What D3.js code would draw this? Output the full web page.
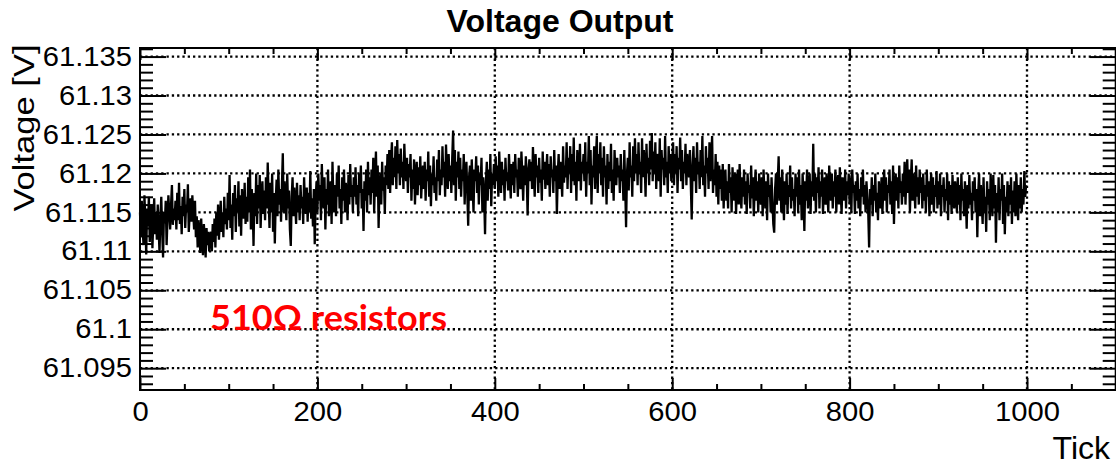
<!DOCTYPE html>
<html>
<head>
<meta charset="utf-8">
<script src="https://cdn.jsdelivr.net/npm/d3@7"></script>
<style>
  html, body { margin: 0; padding: 0; background: #fff; }
  svg { display: block; }
</style>
</head>
<body>
<svg id="chart" width="1116" height="468"></svg>
<script>
// ---- data (values in units of 0.0001 V above 61.1 V, one per tick 0..999) ----
const voltageOffsets = [
150,118,165,128,108,172,140,96,155,132,170,112,145,160,104,138,168,122,150,115,
160,130,98,145,170,125,92,150,136,165,108,142,172,150,128,160,185,134,155,140,
165,128,175,140,188,135,158,122,170,145,180,130,160,150,186,125,148,168,138,172,
150,128,165,118,145,105,140,125,98,142,112,95,135,118,92,130,108,125,100,120,
125,100,135,112,142,105,150,120,160,115,138,165,125,150,118,170,135,155,128,175,
140,198,130,160,115,175,145,185,125,168,150,190,132,172,120,180,155,142,188,135,
170,138,195,150,205,128,180,160,107,175,145,200,135,185,155,198,130,172,190,148,
178,140,195,155,214,170,130,188,150,200,125,175,110,165,192,145,205,160,180,138,
185,226,150,190,168,140,200,155,178,128,107,170,195,145,182,160,135,188,150,172,
140,185,155,170,135,195,160,148,182,138,175,150,203,142,168,132,180,109,165,190,
150,200,165,185,140,212,170,155,195,128,180,160,205,145,175,190,135,215,165,150,
185,145,200,170,210,155,180,135,195,165,205,150,188,175,140,198,160,212,170,185,
150,195,170,208,160,185,145,200,175,210,155,180,126,190,165,205,150,215,172,195,
160,205,175,220,150,195,228,170,210,130,185,200,160,215,178,195,148,210,185,225,
180,230,175,215,240,185,220,195,235,180,243,200,225,185,232,195,215,180,238,205,
190,220,175,212,195,225,165,205,180,218,160,200,215,172,208,185,222,168,195,210,
180,215,165,205,190,228,170,210,158,200,185,222,175,195,165,218,190,230,172,205,
185,235,195,215,170,237,200,180,225,190,210,175,220,255,185,230,165,215,195,228,
180,220,170,205,190,225,160,200,215,175,133,195,210,165,218,185,150,205,190,222,
175,210,160,200,185,220,150,195,170,122,190,215,165,205,180,225,158,200,185,212,
180,222,190,210,170,228,195,175,215,185,205,165,220,190,200,178,225,195,168,212,
185,215,175,225,195,205,170,220,190,180,228,200,165,210,185,222,195,146,205,218,
190,215,180,234,200,170,225,195,210,175,220,188,205,165,228,192,215,180,200,225,
185,212,170,222,195,205,175,230,190,210,148,200,225,180,215,195,170,235,188,210,
195,240,180,220,200,235,175,225,190,246,185,215,165,230,205,190,238,178,215,200,
225,190,240,170,215,200,248,185,230,160,210,195,235,180,220,248,175,225,200,240,
185,220,170,235,195,210,160,225,180,215,190,238,175,205,165,230,200,185,220,195,
210,175,225,190,205,165,230,185,131,200,220,178,240,195,210,170,235,190,245,200,
225,185,240,200,215,175,245,195,230,210,170,238,200,220,185,242,205,252,190,228,
200,240,180,225,210,190,245,170,230,205,220,185,248,195,215,175,235,200,225,190,
215,240,185,225,200,235,175,220,205,246,190,230,180,215,200,238,185,225,210,195,
230,185,141,210,235,190,220,175,240,200,215,180,230,195,248,185,210,170,235,200,
220,180,240,190,215,248,175,205,185,225,170,215,160,210,180,205,165,212,155,195,
205,165,190,155,212,175,195,150,208,180,165,200,148,188,205,160,212,175,155,195,
170,205,160,190,148,200,175,185,155,210,168,195,145,180,205,165,190,150,200,178,
160,195,145,205,175,155,190,140,200,170,185,150,195,165,135,124,180,200,160,190,
222,165,195,150,205,175,140,190,160,200,148,185,170,210,155,195,165,180,145,200,
170,195,150,205,160,185,140,200,175,126,190,165,205,155,180,200,148,190,170,238,
165,200,150,195,175,208,155,190,170,205,148,185,195,160,200,175,150,210,180,165,
200,155,190,170,205,150,185,198,160,208,175,148,195,180,165,205,155,190,172,200,
160,195,150,205,175,185,148,190,165,200,155,180,145,195,170,205,160,185,150,190,
170,150,105,180,160,195,145,185,165,200,150,175,140,190,168,155,195,148,180,205,
165,195,150,185,175,205,160,190,148,210,135,180,200,165,195,155,210,175,190,160,
200,170,215,160,195,218,175,205,150,190,218,165,200,180,155,210,170,195,160,205,
175,195,155,200,165,185,150,205,170,190,145,180,200,160,195,150,185,170,203,155,
190,160,200,145,185,170,195,150,180,165,200,140,190,160,185,148,198,170,155,190,
175,150,195,160,185,140,200,165,180,145,190,170,129,185,155,198,160,175,140,190,
165,195,150,180,118,175,200,145,185,160,135,195,150,170,125,190,160,180,140,200,
170,145,198,155,185,111,175,150,195,140,180,165,200,135,185,122,170,150,190,145,
185,160,195,135,178,150,190,145,200,165,140,185,155,195,150,180,160,203,170,185
];
const baseVoltage = 61.1;
const unit = 0.0001;

const yMajorTicks = [61.095, 61.1, 61.105, 61.11, 61.115, 61.12, 61.125, 61.13, 61.135];
const yTickLabels = ["61.095", "61.1", "61.105", "61.11", "61.115", "61.12", "61.125", "61.13", "61.135"];
const xMajorTicks = [0, 200, 400, 600, 800, 1000];
const xTickLabels = ["0", "200", "400", "600", "800", "1000"];
const xDomain = [0, 1100];
const yDomain = [61.0922, 61.1361];

const titleText = "Voltage Output";
const xLabelText = "Tick";
const yLabelText = "Voltage [V]";
const noteText = "510\u03A9 resistors";

// ---- layout ----
const L = 140, R = 1115.7, T = 48, B = 390;
const svg = d3.select("#chart");
const x = d3.scaleLinear().domain(xDomain).range([L, R]);
const y = d3.scaleLinear().domain(yDomain).range([B, T]);

const data = voltageOffsets.map((v, i) => ({ t: i, v: baseVoltage + v * unit }));

const font = "'Liberation Sans', Arial, Helvetica, sans-serif";

// grid (dotted)
const grid = svg.append("g").attr("stroke", "#000").attr("stroke-width", 2.3).attr("stroke-dasharray", "2.3,3");
grid.selectAll("line.h").data(yMajorTicks).join("line").attr("class", "h")
  .attr("x1", L).attr("x2", R).attr("y1", d => y(d)).attr("y2", d => y(d));
grid.selectAll("line.v").data(xMajorTicks.filter(d => d > 0)).join("line").attr("class", "v")
  .attr("y1", T).attr("y2", B).attr("x1", d => x(d)).attr("x2", d => x(d));

// series line
svg.append("path").datum(data)
  .attr("fill", "none").attr("stroke", "#000").attr("stroke-width", 2.3).attr("stroke-linejoin", "miter")
  .attr("d", d3.line().x(d => x(d.t)).y(d => y(d.v)));

// minor tick values
const yMinor = d3.range(61.093, 61.1365, 0.001).map(v => +v.toFixed(3)).filter(v => yMajorTicks.indexOf(v) < 0);
const xMinor = d3.range(0, 1101, 50).filter(v => v % 200 !== 0);

function styleAxis(g) {
  g.select(".domain").remove();
  g.selectAll(".tick line").attr("stroke", "#000").attr("stroke-width", 2);
}

// left axis
svg.append("g").attr("transform", `translate(${L},0)`)
  .call(d3.axisLeft(y).tickValues(yMinor).tickSizeInner(-13).tickSizeOuter(0).tickFormat(""))
  .call(styleAxis);
const yAx = svg.append("g").attr("transform", `translate(${L},0)`)
  .call(d3.axisLeft(y).tickValues(yMajorTicks).tickSizeInner(-26).tickSizeOuter(0).tickPadding(8)
    .tickFormat((d, i) => yTickLabels[i]))
  .call(styleAxis);
yAx.selectAll("text").attr("font-family", font).attr("font-size", 27).attr("fill", "#000");

// right axis
svg.append("g").attr("transform", `translate(${R},0)`)
  .call(d3.axisRight(y).tickValues(yMinor).tickSizeInner(-13).tickSizeOuter(0).tickFormat(""))
  .call(styleAxis);
svg.append("g").attr("transform", `translate(${R},0)`)
  .call(d3.axisRight(y).tickValues(yMajorTicks).tickSizeInner(-26).tickSizeOuter(0).tickFormat(""))
  .call(styleAxis);

// bottom axis
svg.append("g").attr("transform", `translate(0,${B})`)
  .call(d3.axisBottom(x).tickValues(xMinor).tickSizeInner(-6).tickSizeOuter(0).tickFormat(""))
  .call(styleAxis);
const xAx = svg.append("g").attr("transform", `translate(0,${B})`)
  .call(d3.axisBottom(x).tickValues(xMajorTicks).tickSizeInner(-12).tickSizeOuter(0).tickPadding(12)
    .tickFormat((d, i) => xTickLabels[i]))
  .call(styleAxis);
xAx.selectAll("text").attr("font-family", font).attr("font-size", 27).attr("fill", "#000");

// top axis
svg.append("g").attr("transform", `translate(0,${T})`)
  .call(d3.axisTop(x).tickValues(xMinor).tickSizeInner(-6).tickSizeOuter(0).tickFormat(""))
  .call(styleAxis);
svg.append("g").attr("transform", `translate(0,${T})`)
  .call(d3.axisTop(x).tickValues(xMajorTicks).tickSizeInner(-12).tickSizeOuter(0).tickFormat(""))
  .call(styleAxis);

// stretch tick labels slightly
svg.selectAll(".tick text").each(function () {
  const len = this.getComputedTextLength();
  if (len > 0) d3.select(this).attr("textLength", len * 1.08).attr("lengthAdjust", "spacingAndGlyphs");
});

// frame
svg.append("rect").attr("x", L).attr("y", T).attr("width", R - L).attr("height", B - T)
  .attr("fill", "none").attr("stroke", "#000").attr("stroke-width", 2);

// title
svg.append("text").attr("x", 560).attr("y", 31.5).attr("text-anchor", "middle")
  .attr("font-family", font).attr("font-weight", "bold").attr("font-size", 32).text(titleText);

// x label
svg.append("text").attr("x", 1110).attr("y", 459).attr("text-anchor", "end")
  .attr("font-family", font).attr("font-size", 32).text(xLabelText);

// y label
svg.append("text").attr("transform", "translate(34,128) rotate(-90)").attr("text-anchor", "middle")
  .attr("font-family", font).attr("font-size", 30)
  .attr("textLength", 167).attr("lengthAdjust", "spacingAndGlyphs").text(yLabelText);

// note
svg.append("text").attr("x", 210).attr("y", 330)
  .attr("font-family", "Lato, 'Open Sans', sans-serif").attr("font-weight", "bold").attr("font-size", 35)
  .attr("fill", "#ff0000").attr("textLength", 237).attr("lengthAdjust", "spacingAndGlyphs").text(noteText);
</script>
</body>
</html>
